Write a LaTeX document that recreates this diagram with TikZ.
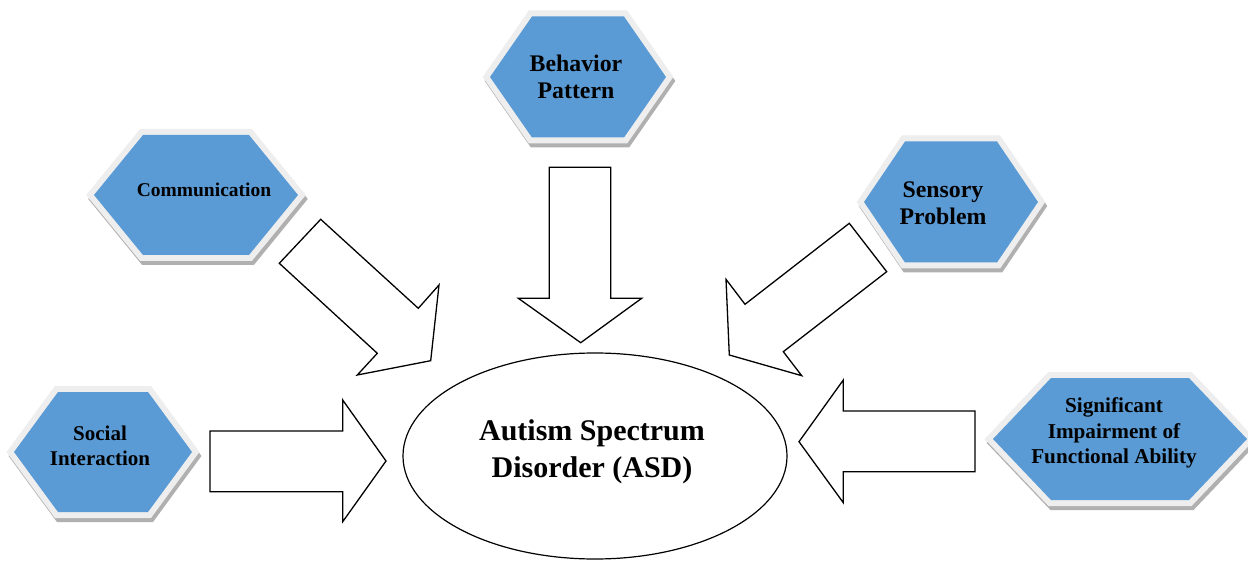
\documentclass[tikz,border=0pt]{standalone}
\usepackage{fontspec}
\setmainfont{Liberation Serif}
\usetikzlibrary{shapes.geometric}
\definecolor{hexblue}{HTML}{5B9BD5}
\definecolor{hexrim}{HTML}{EEEEEE}
\definecolor{hexshadow}{HTML}{B0B0B0}
% #1 cx, #2 cy, #3 half width, #4 inset, #5 half height
\newcommand\hexbadge[5]{%
  \filldraw[hexshadow, line width=12pt, line join=miter, shift={(#1+2,#2+4)}]
    (-#3,0) -- (-#3+#4,-#5) -- (#3-#4,-#5) -- (#3,0) -- (#3-#4,#5) -- (-#3+#4,#5) -- cycle;
  \filldraw[hexrim, line width=12pt, line join=miter, shift={(#1,#2)}]
    (-#3,0) -- (-#3+#4,-#5) -- (#3-#4,-#5) -- (#3,0) -- (#3-#4,#5) -- (-#3+#4,#5) -- cycle;
  \fill[hexblue, shift={(#1,#2)}]
    (-#3,0) -- (-#3+#4,-#5) -- (#3-#4,-#5) -- (#3,0) -- (#3-#4,#5) -- (-#3+#4,#5) -- cycle;
}
\tikzset{
  lbl/.style={align=center, inner sep=0pt, text=black},
  blockarrow/.style={draw=black, fill=white, line width=1.3pt, line join=miter},
}
\begin{document}
\begin{tikzpicture}[x=1pt, y=-1pt]
\useasboundingbox (0,0) rectangle (1248,561);
\fill[white] (0,0) rectangle (1248,561);

% hexagons
\hexbadge{578}{77}{88}{42}{60.5}
\hexbadge{196}{195}{102}{49}{60}
\hexbadge{951}{202}{87}{41}{60.5}
\hexbadge{103}{452}{89}{44}{60}
\hexbadge{1120}{439}{127}{58}{61}

% labels
\node[lbl, font=\fontsize{23.8}{27}\selectfont\bfseries] (behavior) at (576,77) {Behavior\\Pattern};
\node[lbl, font=\fontsize{19.5}{23}\selectfont\bfseries] (comm) at (204,190) {Communication};
\node[lbl, font=\fontsize{23.8}{27}\selectfont\bfseries] (sensory) at (943,203.5) {Sensory\\Problem};
\node[lbl, font=\fontsize{21}{25}\selectfont\bfseries] (social) at (100,446) {Social\\Interaction};
\node[lbl, font=\fontsize{21.2}{25.5}\selectfont\bfseries] (signif) at (1114,433) {Significant\\Impairment of\\Functional Ability};

% central ellipse
\node[ellipse, draw=black, line width=1.2pt, minimum width=384pt, minimum height=206pt, inner sep=0pt] (asd) at (595,456) {};
\node[lbl, font=\fontsize{30}{37}\selectfont\bfseries] (asdtext) at (592,451.5) {Autism Spectrum\\Disorder (ASD)};

% block arrows
\draw[blockarrow] (320.7,219.3) -- (418.3,308.3) -- (439,285) -- (430.7,360.7) -- (357.3,375) -- (377.3,353.3) -- (279.3,263.3) -- cycle;
\draw[blockarrow] (549.3,167.3) -- (610.7,167.3) -- (610.7,298.3) -- (641.7,298.3) -- (580.7,342.7) -- (518.3,298.3) -- (549.3,298.3) -- cycle;
\draw[blockarrow] (849.3,223.3) -- (886.7,271.7) -- (783.3,351.7) -- (801.7,375.7) -- (729.3,355) -- (726,279.3) -- (745,304.3) -- cycle;
\draw[blockarrow] (210,431) -- (342.7,431) -- (342.7,400) -- (386,461) -- (342.7,521.7) -- (342.7,491.7) -- (210,491.7) -- cycle;
\draw[blockarrow] (975,411) -- (843.3,411) -- (843.3,380) -- (799,441.7) -- (843.3,502.7) -- (843.3,471.7) -- (975,471.7) -- cycle;
\end{tikzpicture}
\end{document}
